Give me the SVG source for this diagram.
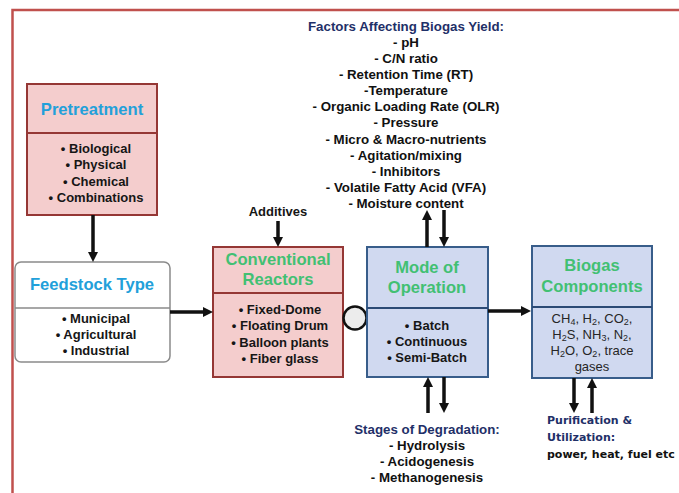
<svg xmlns="http://www.w3.org/2000/svg" width="679" height="493" viewBox="0 0 679 493">
<defs>
<marker id="ah" markerUnits="userSpaceOnUse" markerWidth="10" markerHeight="10" refX="2" refY="5" orient="auto">
<path d="M0,0 L10,5 L0,10 z" fill="#111"/>
</marker>
<style>
text{font-family:"Liberation Sans",Arial,sans-serif;font-weight:bold;text-anchor:middle}
.pink{fill:#F4CDCD;stroke:#953735;stroke-width:2}
.blue{fill:#D0D9F0;stroke:#385D8A;stroke-width:2}
.ttl{font-size:16.6px}
.cy{fill:#22A0DA}
.gr{fill:#42C073}
.it{font-size:13px;fill:#161616}
.fac{font-size:13.3px;fill:#111}
.nv{fill:#1F3068}
.gas{font-size:13px;font-weight:normal;fill:#262626}
.pu{font-family:"DejaVu Sans",Verdana,sans-serif;font-size:11px;text-anchor:start}
.con{stroke:#111;stroke-width:3.5;fill:none;marker-end:url(#ah)}
</style>
</defs>
<rect width="679" height="493" fill="#fff"/>
<path d="M12.5,496 V10 H682" fill="none" stroke="#C0504D" stroke-width="2.5"/>

<g id="factors">
<text class="fac nv" x="406" y="31">Factors Affecting Biogas Yield:</text>
<text class="fac" x="406" y="47">- pH</text>
<text class="fac" x="406" y="63">- C/N ratio</text>
<text class="fac" x="406" y="79">- Retention Time (RT)</text>
<text class="fac" x="406" y="95">-Temperature</text>
<text class="fac" x="406" y="111">- Organic Loading Rate (OLR)</text>
<text class="fac" x="406" y="127">- Pressure</text>
<text class="fac" x="406" y="144">- Micro &amp; Macro-nutrients</text>
<text class="fac" x="406" y="160">- Agitation/mixing</text>
<text class="fac" x="406" y="176">- Inhibitors</text>
<text class="fac" x="406" y="192">- Volatile Fatty Acid (VFA)</text>
<text class="fac" x="406" y="208">- Moisture content</text>
</g>

<g id="pretreatment">
<rect class="pink" x="27" y="84" width="130" height="131"/>
<line x1="27" y1="133" x2="157" y2="133" stroke="#953735" stroke-width="2"/>
<text class="ttl cy" x="92" y="115">Pretreatment</text>
<text class="it" x="96" y="153">• Biological</text>
<text class="it" x="96" y="169">• Physical</text>
<text class="it" x="96" y="186">• Chemical</text>
<text class="it" x="96" y="202">• Combinations</text>
</g>

<g id="feedstock">
<rect x="15" y="262" width="155" height="100" rx="6" fill="#fff" stroke="#8a8a8a" stroke-width="1.5"/>
<line x1="15" y1="308" x2="170" y2="308" stroke="#8a8a8a" stroke-width="1.5"/>
<text class="ttl cy" x="92" y="290">Feedstock Type</text>
<text class="it" x="96" y="323">• Municipal</text>
<text class="it" x="96" y="339">• Agricultural</text>
<text class="it" x="96" y="355">• Industrial</text>
</g>

<g id="additives">
<text class="it" x="278" y="216">Additives</text>
</g>

<g id="reactors">
<rect class="pink" x="213" y="247" width="130" height="130"/>
<line x1="213" y1="293" x2="343" y2="293" stroke="#953735" stroke-width="2"/>
<text class="ttl gr" x="278" y="265">Conventional</text>
<text class="ttl gr" x="278" y="285">Reactors</text>
<text class="it" x="280" y="314">• Fixed-Dome</text>
<text class="it" x="280" y="330">• Floating Drum</text>
<text class="it" x="280" y="347">• Balloon plants</text>
<text class="it" x="280" y="363">• Fiber glass</text>
</g>

<g id="valve">
<circle cx="355" cy="318" r="11.5" fill="#ECECEC" stroke="#111" stroke-width="2.5"/>
</g>

<g id="mode">
<rect class="blue" x="367" y="247" width="121" height="130"/>
<line x1="367" y1="308" x2="488" y2="308" stroke="#2B4A75" stroke-width="2"/>
<text class="ttl gr" x="427" y="273">Mode of</text>
<text class="ttl gr" x="427" y="293">Operation</text>
<text class="it" x="427" y="330">• Batch</text>
<text class="it" x="427" y="346">• Continuous</text>
<text class="it" x="427" y="362">• Semi-Batch</text>
</g>

<g id="biogas">
<rect class="blue" x="532" y="246" width="120" height="132"/>
<line x1="532" y1="307" x2="652" y2="307" stroke="#2B4A75" stroke-width="2"/>
<text class="ttl gr" x="592" y="271">Biogas</text>
<text class="ttl gr" x="592" y="292">Components</text>
<text class="gas" x="592" y="323">CH<tspan font-size="9px" dy="2">4</tspan><tspan dy="-2">, H</tspan><tspan font-size="9px" dy="2">2</tspan><tspan dy="-2">, CO</tspan><tspan font-size="9px" dy="2">2</tspan><tspan dy="-2">,</tspan></text>
<text class="gas" x="592" y="339">H<tspan font-size="9px" dy="2">2</tspan><tspan dy="-2">S, NH</tspan><tspan font-size="9px" dy="2">3</tspan><tspan dy="-2">, N</tspan><tspan font-size="9px" dy="2">2</tspan><tspan dy="-2">,</tspan></text>
<text class="gas" x="592" y="355">H<tspan font-size="9px" dy="2">2</tspan><tspan dy="-2">O, O</tspan><tspan font-size="9px" dy="2">2</tspan><tspan dy="-2">, trace</tspan></text>
<text class="gas" x="592" y="371">gases</text>
</g>

<g id="stages">
<text class="fac nv" x="427" y="434">Stages of Degradation:</text>
<text class="fac" x="427" y="450">- Hydrolysis</text>
<text class="fac" x="427" y="466">- Acidogenesis</text>
<text class="fac" x="427" y="482">- Methanogenesis</text>
</g>

<g id="purification">
<text class="pu nv" x="547" y="424">Purification &amp;</text>
<text class="pu nv" x="547" y="441">Utilization:</text>
<text class="pu" x="547" y="458" fill="#111">power, heat, fuel etc</text>
</g>

<g id="connectors">
<line class="con" x1="93" y1="215" x2="93" y2="254"/>
<line class="con" x1="170" y1="312" x2="205" y2="312"/>
<line class="con" x1="278" y1="221" x2="278" y2="239"/>
<line class="con" x1="427" y1="247" x2="427" y2="218"/>
<line class="con" x1="444" y1="210" x2="444" y2="239"/>
<line class="con" x1="488" y1="311" x2="523" y2="311"/>
<line class="con" x1="428" y1="413" x2="428" y2="385"/>
<line class="con" x1="444" y1="377" x2="444" y2="405"/>
<line class="con" x1="574" y1="378" x2="574" y2="405"/>
<line class="con" x1="592" y1="413" x2="592" y2="386"/>
</g>
</svg>
